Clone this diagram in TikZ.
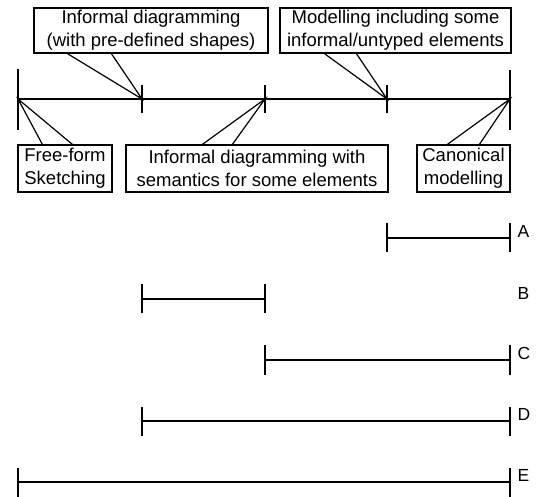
\documentclass[tikz,border=0pt]{standalone}
\usepackage{fontspec}
\setmainfont{Liberation Sans}
\begin{document}
\begin{tikzpicture}[x=1pt,y=-1pt,
  every path/.style={line width=1.2pt},
  lbl/.style={draw, line width=1.2pt, align=center, inner sep=0pt, minimum height=45pt,
    font=\fontsize{18.5}{23}\selectfont},
  letter/.style={anchor=west, inner sep=0pt, font=\fontsize{17.5}{20}\selectfont},
  bar/.style={line width=1.2pt}]
\useasboundingbox (0,0) rectangle (536,497);
% axis points
\coordinate (t1) at (18,99);
\coordinate (t2) at (142,99);
\coordinate (t3) at (265,99);
\coordinate (t4) at (387,99);
\coordinate (t5) at (510,99);
\draw (t1) -- (t5);
\draw ([yshift=-31pt]t1) -- ([yshift=30pt]t1);
\draw ([yshift=-14pt]t2) -- ([yshift=14pt]t2);
\draw ([yshift=-14pt]t3) -- ([yshift=14pt]t3);
\draw ([yshift=-14pt]t4) -- ([yshift=14pt]t4);
\draw ([yshift=-31pt]t5) -- ([yshift=29pt]t5);
% label boxes
\node[lbl, minimum width=234pt] (b1) at (151,30.5) {Informal diagramming\\(with pre-defined shapes)};
\node[lbl, minimum width=231pt] (b2) at (395.5,30.5) {Modelling including some\\informal/untyped elements};
\node[lbl, minimum width=94pt, minimum height=47pt] (b3) at (65,168.5) {Free-form\\Sketching};
\node[lbl, minimum width=262pt, minimum height=47pt] (b4) at (257,168.5) {Informal diagramming with\\semantics for some elements};
\node[lbl, minimum width=93pt, minimum height=47pt] (b5) at (463.5,168.5) {Canonical\\modelling};
% callouts
\draw ([xshift=34pt]b1.south west) -- (t2) -- ([xshift=78pt]b1.south west);
\draw ([xshift=45pt]b2.south west) -- (t4) -- ([xshift=77pt]b2.south west);
\draw ([xshift=25pt]b3.north west) -- (t1) -- ([xshift=55pt]b3.north west);
\draw ([xshift=77pt]b4.north west) -- (t3) -- ([xshift=107pt]b4.north west);
\draw ([xshift=31pt]b5.north west) -- (t5) -- ([xshift=63pt]b5.north west);
% ranges
\coordinate (a1) at (387,238); \coordinate (a2) at (510,238);
\coordinate (bb1) at (142,299); \coordinate (bb2) at (265,299);
\coordinate (c1) at (265,360); \coordinate (c2) at (510,360);
\coordinate (d1) at (142,421); \coordinate (d2) at (510,421);
\coordinate (e1) at (18,482); \coordinate (e2) at (510,482);
\foreach \p/\q in {a1/a2,bb1/bb2,c1/c2,d1/d2,e1/e2}{
  \draw[bar] (\p) -- (\q);
  \draw[bar] ([yshift=-14.5pt]\p) -- ([yshift=14.5pt]\p);
  \draw[bar] ([yshift=-14.5pt]\q) -- ([yshift=14.5pt]\q);
}
\node[letter] (lA) at (517,231) {A};
\node[letter] (lB) at (517,293) {B};
\node[letter] (lC) at (517,353) {C};
\node[letter] (lD) at (517,414) {D};
\node[letter] (lE) at (517,475) {E};
\end{tikzpicture}
\end{document}
